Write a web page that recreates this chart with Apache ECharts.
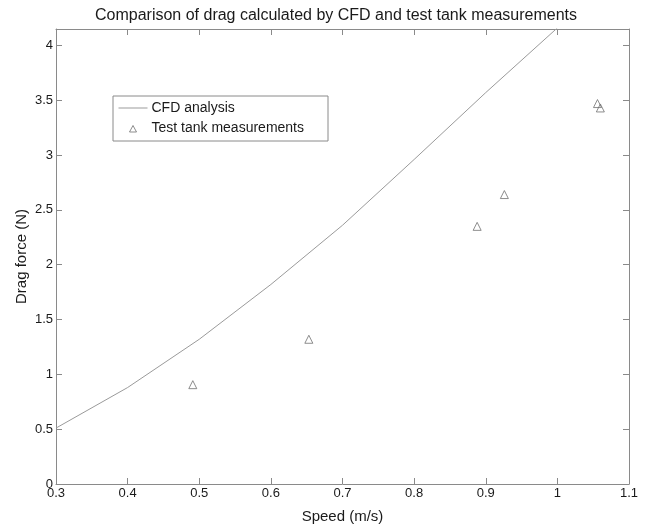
<!DOCTYPE html>
<html>
<head>
<meta charset="utf-8">
<script src="https://cdn.jsdelivr.net/npm/echarts@6/dist/echarts.min.js"></script>
<style>html,body{margin:0;padding:0;background:#fff;}#c{width:653px;height:529px;}</style>
</head>
<body>
<div id="c"></div>
<script>
var cfdSpeed = [0.3, 0.4, 0.5, 0.6, 0.7, 0.8, 0.9, 1.0];
var cfdDrag = [0.51, 0.88, 1.32, 1.82, 2.36, 2.96, 3.57, 4.16];
var tankSpeed = [0.491, 0.653, 0.888, 0.926, 1.056, 1.060];
var tankDrag = [0.906, 1.32, 2.35, 2.64, 3.47, 3.43];
var titleText = 'Comparison of drag calculated by CFD and test tank measurements';
var xName = 'Speed (m/s)';
var yName = 'Drag force (N)';

var axisColor = '#8a8a8a';
var textColor = '#1a1a1a';
var font = 'Liberation Sans, Arial, sans-serif';

function zip(a, b) { return a.map(function (v, i) { return [v, b[i]]; }); }

var lineIcon = 'path://M0,0 M29,14 M0,6.5 L29,6.5 L29,7.5 L0,7.5 Z';
var triIcon = 'path://M0,0 M29,14 M11,10.5 L14.5,4 L18,10.5 Z';

var chart = echarts.init(document.getElementById('c'), null, {renderer: 'canvas'});
var baseX = {
  type: 'value', min: 0.3, max: 1.1, interval: 0.1,
  axisLine: {show: true, onZero: false, lineStyle: {color: axisColor, width: 1}},
  axisTick: {show: true, inside: true, length: 6, lineStyle: {color: axisColor}},
  splitLine: {show: false}
};
var baseY = {
  type: 'value', min: 0, max: 4.15, interval: 0.5,
  axisLine: {show: true, onZero: false, lineStyle: {color: axisColor, width: 1}},
  axisTick: {show: true, inside: true, length: 6, lineStyle: {color: axisColor}},
  splitLine: {show: false}
};
var option = {
  backgroundColor: '#fff',
  animation: false,
  title: {
    text: titleText, left: 331, top: 3, textAlign: 'center',
    textStyle: {fontFamily: font, fontSize: 16, fontWeight: 'normal', color: textColor}
  },
  grid: {left: 56, right: 24, top: 29, bottom: 38},
  legend: {
    orient: 'vertical', left: 113, top: 96,
    padding: [5, 24, 5, 5], itemGap: 6, itemWidth: 29, itemHeight: 14,
    borderColor: '#8a8a8a', borderWidth: 1, backgroundColor: '#fff',
    symbolKeepAspect: true,
    textStyle: {fontFamily: font, fontSize: 14, color: textColor, padding: [0, 0, 0, -1]},
    data: [
      {name: 'CFD analysis', icon: lineIcon, itemStyle: {color: '#9a9a9a', borderWidth: 0}},
      {name: 'Test tank measurements', icon: triIcon, itemStyle: {color: '#fff', borderColor: '#707070', borderWidth: 1}}
    ]
  },
  xAxis: [
    Object.assign({}, baseX, {
      position: 'bottom', name: xName, nameLocation: 'middle', nameGap: 25,
      nameTextStyle: {fontFamily: font, fontSize: 15, color: textColor},
      axisLabel: {fontFamily: font, fontSize: 13, color: textColor, margin: 3,
        formatter: function (v) { return String(Math.round(v * 10) / 10); }}
    }),
    Object.assign({}, baseX, {position: 'top', axisLabel: {show: false}})
  ],
  yAxis: [
    Object.assign({}, baseY, {
      position: 'left', name: yName, nameLocation: 'middle', nameGap: 27, nameMoveOverlap: false,
      nameTextStyle: {fontFamily: font, fontSize: 15, color: textColor},
      axisLabel: {fontFamily: font, fontSize: 13, color: textColor, margin: 3, showMaxLabel: false,
        formatter: function (v) { return (Math.abs(v * 2 - Math.round(v * 2)) < 1e-6) ? String(v) : ''; }}
    }),
    Object.assign({}, baseY, {position: 'right', axisLabel: {show: false}})
  ],
  series: [
    {
      name: 'CFD analysis', type: 'line', data: zip(cfdSpeed, cfdDrag),
      showSymbol: false, symbol: 'none', clip: true,
      lineStyle: {color: '#9a9a9a', width: 1}, itemStyle: {color: '#9a9a9a'}
    },
    {
      name: 'Test tank measurements', type: 'scatter', data: zip(tankSpeed, tankDrag),
      symbol: 'triangle', symbolSize: 8,
      itemStyle: {color: 'rgba(255,255,255,0)', borderColor: '#707070', borderWidth: 1}
    }
  ]
};
chart.setOption(option);
</script>
</body>
</html>
